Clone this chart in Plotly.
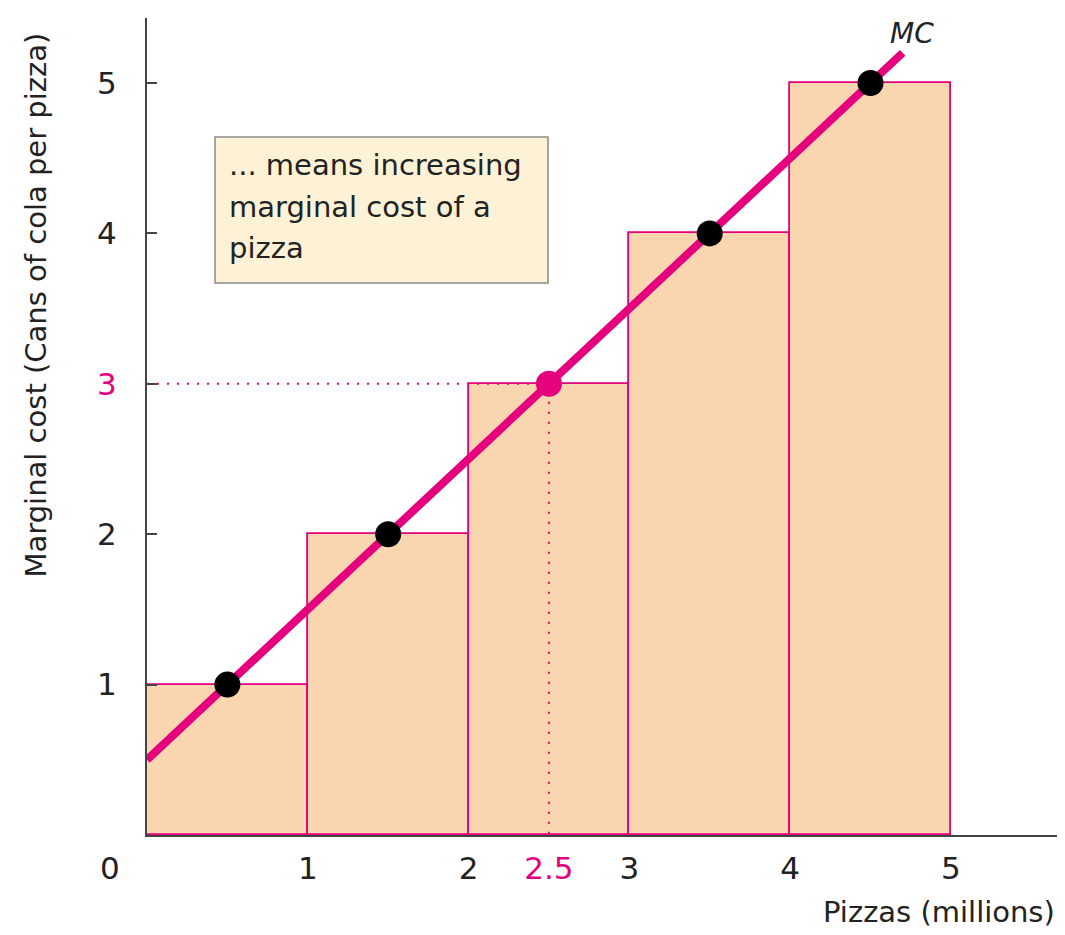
import plotly.graph_objects as go

# Data
bar_centers = [0.5, 1.5, 2.5, 3.5, 4.5]
bar_heights = [1, 2, 3, 4, 5]
mc_x = [0, 4.7]
mc_y = [0.5, 5.2]
pts_x = [0.5, 1.5, 3.5, 4.5]
pts_y = [1, 2, 4, 5]
hl_x = 2.5
hl_y = 3
x_tickvals = [1, 2, 2.5, 3, 4, 5]
x_ticktext = ["1", "2", "<span style='color:#E5007E'>2.5</span>", "3", "4", "5"]
y_tickvals = [1, 2, 3, 4, 5]
y_ticktext = ["1", "2", "<span style='color:#E5007E'>3</span>", "4", "5"]
note_lines = ["... means increasing", "marginal cost of a", "pizza"]
note_line_y = [4.455, 4.176, 3.903]

PINK = "#E5007E"
FONT = "DejaVu Sans"
AX = "#444444"
TXT = "#222222"

fig = go.Figure()
fig.add_trace(go.Bar(x=bar_centers, y=bar_heights, width=1, base=0,
                     marker=dict(color="#FAD6B0", line=dict(color=PINK, width=1.8)),
                     hoverinfo="skip"))
fig.add_trace(go.Scatter(x=[0, hl_x, hl_x], y=[hl_y, hl_y, 0], mode="lines",
                         line=dict(color=PINK, width=2, dash="2px,8px"), hoverinfo="skip"))
fig.add_trace(go.Scatter(x=mc_x, y=mc_y, mode="lines",
                         line=dict(color=PINK, width=8), hoverinfo="skip"))
fig.add_trace(go.Scatter(x=pts_x, y=pts_y, mode="markers",
                         marker=dict(color="black", size=26), hoverinfo="skip"))
fig.add_trace(go.Scatter(x=[hl_x], y=[hl_y], mode="markers",
                         marker=dict(color=PINK, size=26), hoverinfo="skip"))

fig.update_layout(
    width=1065, height=935,
    margin=dict(l=147, r=8, t=18, b=100),
    plot_bgcolor="white", paper_bgcolor="white",
    showlegend=False, bargap=0,
    font=dict(family=FONT, size=28, color=TXT),
    xaxis=dict(range=[0, 5.66], tickvals=x_tickvals, ticktext=x_ticktext, automargin=False,
               showgrid=False, zeroline=False, showline=True, linecolor=AX, linewidth=2,
               ticks="", ticklabelstandoff=5, tickfont=dict(size=31)),
    yaxis=dict(range=[0, 5.432], tickvals=y_tickvals, ticktext=y_ticktext, automargin=False,
               showgrid=False, zeroline=False, showline=True, linecolor=AX, linewidth=2,
               ticks="inside", ticklen=10, tickcolor=AX, tickwidth=2,
               ticklabelstandoff=22, tickfont=dict(size=31)),
)

fig.add_annotation(x=0, y=0.5, xref="paper", yref="paper", textangle=-90,
                   text="Marginal cost (Cans of cola per pizza)", showarrow=False,
                   xanchor="center", yanchor="middle", xshift=-112, yshift=121,
                   font=dict(size=29))
fig.add_annotation(x=0, y=0, xref="x", yref="y", text="0", showarrow=False,
                   xanchor="center", yanchor="middle", xshift=-37, yshift=-33,
                   font=dict(size=31))
fig.add_annotation(x=1, y=0, xref="paper", yref="paper", text="Pizzas (millions)",
                   showarrow=False, xanchor="right", yanchor="middle", yshift=-77,
                   font=dict(size=29))
fig.add_annotation(x=4.76, y=5.33, xref="x", yref="y", text="<i>MC</i>", showarrow=False,
                   xanchor="center", yanchor="middle", font=dict(size=28))

fig.add_shape(type="rect", xref="x", yref="y", x0=0.423, x1=2.494, y0=3.670, y1=4.641,
              fillcolor="#FEF2D6", line=dict(color="#8a8a8a", width=1.5), layer="above")
for txt, yy in zip(note_lines, note_line_y):
    fig.add_annotation(x=0.5, y=yy, xref="x", yref="y", text=txt, showarrow=False,
                       xanchor="left", yanchor="middle", font=dict(size=29))

fig.write_html("out.html", config={"displayModeBar": False},
               post_script="document.body.style.margin='0';")
